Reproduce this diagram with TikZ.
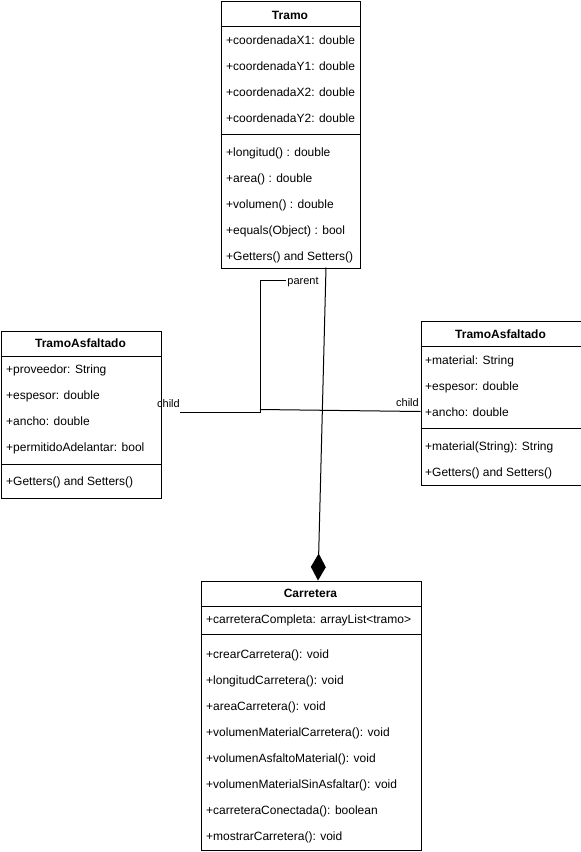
\documentclass[tikz,border=0pt]{standalone}
\usepackage{fontspec}
\setmainfont{Liberation Sans}
\usetikzlibrary{arrows.meta}
\begin{document}
\begin{tikzpicture}[x=1pt,y=-1pt,
  classbox/.style={draw, line width=1pt, inner sep=0pt, anchor=north west},
  member/.style={anchor=base west, inner sep=0pt, font=\fontsize{12}{14}\selectfont},
  ctitle/.style={anchor=base, inner sep=0pt, font=\fontsize{12}{14}\selectfont\bfseries},
  lbl/.style={anchor=base, inner sep=0pt, font=\fontsize{11}{13}\selectfont},
  divider/.style={line width=1pt},
  conn/.style={line width=1pt},
]
\useasboundingbox (0,0) rectangle (581,852);

% ---------- Tramo ----------
\node[classbox, minimum width=139pt, minimum height=267pt] (tramo) at (220.5,0.5) {};
\draw[divider] (220.5,26.5) -- (359.5,26.5);
\draw[divider] (220.5,134.5) -- (359.5,134.5);
\node[ctitle] (tramoT) at (290,19) {Tramo};
\node[member] (ta1) at (226,44.5) {+coordenadaX1: double};
\node[member] (ta2) at (226,70.5) {+coordenadaY1: double};
\node[member] (ta3) at (226,96.5) {+coordenadaX2: double};
\node[member] (ta4) at (226,122.5) {+coordenadaY2: double};
\node[member] (tm1) at (226,156.5) {+longitud() : double};
\node[member] (tm2) at (226,182.5) {+area() : double};
\node[member] (tm3) at (226,208.5) {+volumen() : double};
\node[member] (tm4) at (226,234.5) {+equals(Object) : bool};
\node[member] (tm5) at (226,260.5) {+Getters() and Setters()};

% ---------- TramoAsfaltado (left) ----------
\node[classbox, minimum width=160pt, minimum height=167pt] (tal) at (0.5,330.5) {};
\draw[divider] (0.5,356.5) -- (160.5,356.5);
\draw[divider] (0.5,464.5) -- (160.5,464.5);
\node[ctitle] (talT) at (80.5,347.5) {TramoAsfaltado};
\node[member] (la1) at (6,373.5) {+proveedor: String};
\node[member] (la2) at (6,399.5) {+espesor: double};
\node[member] (la3) at (6,425.5) {+ancho: double};
\node[member] (la4) at (6,451.5) {+permitidoAdelantar: bool};
\node[member] (lm1) at (6,485.5) {+Getters() and Setters()};

% ---------- TramoAsfaltado (right) ----------
\node[classbox, minimum width=160pt, minimum height=164pt] (tar) at (420.5,320.5) {};
\draw[divider] (420.5,346.5) -- (580.5,346.5);
\draw[divider] (420.5,428.5) -- (580.5,428.5);
\node[ctitle] (tarT) at (500.5,338.5) {TramoAsfaltado};
\node[member] (ra1) at (425,364.5) {+material: String};
\node[member] (ra2) at (425,390.5) {+espesor: double};
\node[member] (ra3) at (425,416.5) {+ancho: double};
\node[member] (rm1) at (425,450.5) {+material(String): String};
\node[member] (rm2) at (425,476.5) {+Getters() and Setters()};

% ---------- Carretera ----------
\node[classbox, minimum width=220pt, minimum height=269pt] (car) at (200.5,580.5) {};
\draw[divider] (200.5,606.5) -- (420.5,606.5);
\draw[divider] (200.5,634.5) -- (420.5,634.5);
\node[ctitle] (carT) at (310.5,597.5) {Carretera};
\node[member] (ca1) at (206,623.5) {+carreteraCompleta: arrayList<tramo>};
\node[member] (cm1) at (206,658.5) {+crearCarretera(): void};
\node[member] (cm2) at (206,684.5) {+longitudCarretera(): void};
\node[member] (cm3) at (206,710.5) {+areaCarretera(): void};
\node[member] (cm4) at (206,736.5) {+volumenMaterialCarretera(): void};
\node[member] (cm5) at (206,762.5) {+volumenAsfaltoMaterial(): void};
\node[member] (cm6) at (206,788.5) {+volumenMaterialSinAsfaltar(): void};
\node[member] (cm7) at (206,814.5) {+carreteraConectada(): boolean};
\node[member] (cm8) at (206,840.5) {+mostrarCarretera(): void};

% ---------- connectors ----------
\coordinate (tb) at (326,267.5);
\coordinate (ct) at (318,580.5);
\draw[conn, -{Diamond[fill=black, length=27pt, width=15pt, line width=0pt]}] (tb) -- (ct);

\node[lbl] (childL) at (168.5,407.5) {child};
\node[lbl] (parentL) at (303,284) {parent};
\node[lbl] (childR) at (407.5,406.5) {child};
\coordinate (l1) at (180,412);
\coordinate (l2) at (260,412);
\coordinate (l3) at (260,280);
\coordinate (l4) at (285.5,280);
\draw[conn] (l1) -- (l2) -- (l3) -- (l4);
\coordinate (r1) at (260,409.5);
\coordinate (r2) at (420.5,411.5);
\draw[conn] (r1) -- (r2);
\end{tikzpicture}
\end{document}
